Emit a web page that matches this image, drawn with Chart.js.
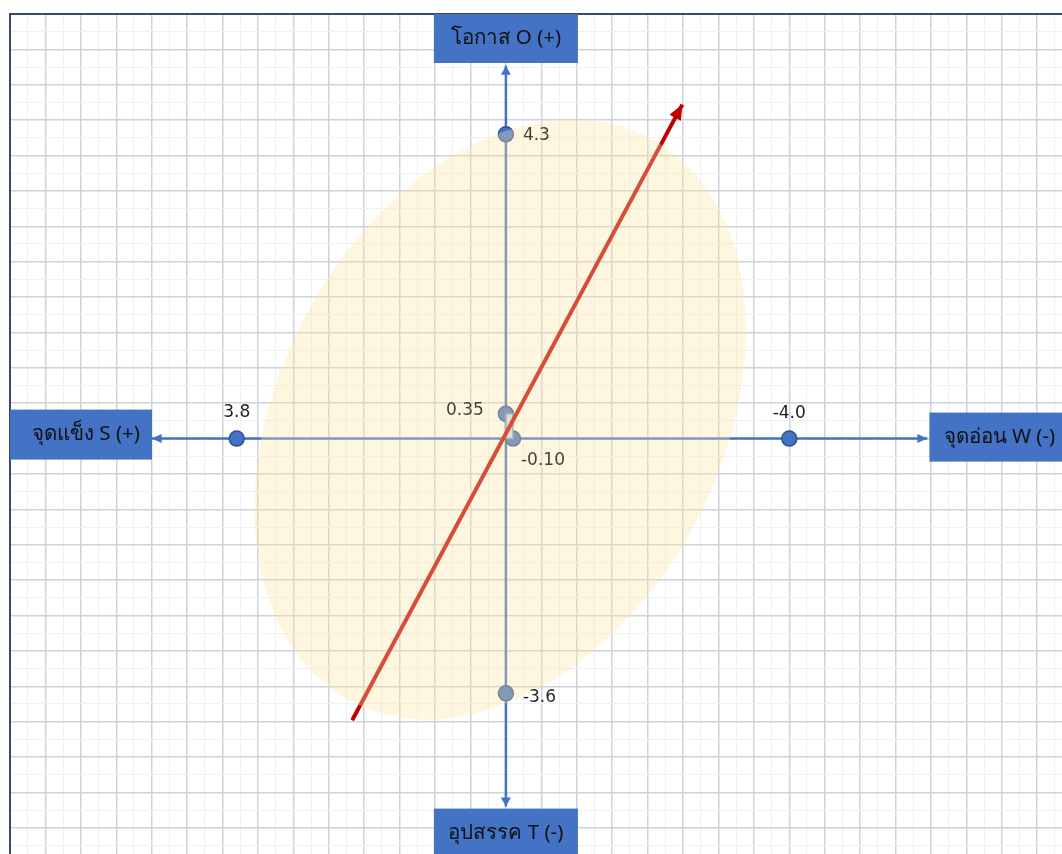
<!DOCTYPE html>
<html>
<head>
  <meta charset="UTF-8">
  <script src="https://cdn.jsdelivr.net/npm/chart.js"></script>
  <title>SWOT</title>
  <style>
    body { margin: 0; background: #fff; overflow: hidden; }
    canvas { display: block; }
  </style>
</head>
<body>
  <canvas id="swotChart" width="1062" height="854"></canvas>
  <script>
    // ชื่อปัจจัย (กล่องปลายแกน)
    var factorNames = ['จุดแข็ง S (+)', 'จุดอ่อน W (-)', 'โอกาส O (+)', 'อุปสรรค T (-)'];

    // คะแนน S, W, O, T และผลรวม (O+T, S+W)
    var scoreX = [3.8, -4.0, 0, 0, 0, -0.10];
    var scoreY = [0, 0, 4.3, -3.6, 0.35, 0];
    var scoreLabels = ['3.8', '-4.0', '4.3', '-3.6', '0.35', '-0.10'];

    // axis lines and the strategy arrow, in data units
    var hAxisX = [5.0, -5.95];
    var vAxisY = [5.27, -5.2];
    var arrowX = [2.17, -2.49];
    var arrowY = [-3.98, 4.72];

    // small box between the two sums
    var sumBoxX = [0, -0.10, -0.10, 0, 0];
    var sumBoxY = [0, 0, 0.35, 0.35, 0];

    // zone ellipse: centre x, centre y, half length, half width, tilt (deg)
    var zoneEllipse = [0.08, 0.27, 4.5, 3.12, 62];

    function toPoints(xs, ys) {
      return xs.map(function (x, i) { return { x: x, y: ys[i] }; });
    }

    function isMajor(v) {
      return Math.abs(v * 2 - Math.round(v * 2)) < 1e-6;
    }

    function drawHead(ctx, fromX, fromY, tipX, tipY, len, wid, color) {
      var a = Math.atan2(tipY - fromY, tipX - fromX);
      ctx.save();
      ctx.translate(tipX, tipY);
      ctx.rotate(a);
      ctx.beginPath();
      ctx.moveTo(0, 0);
      ctx.lineTo(-len, -wid / 2);
      ctx.lineTo(-len, wid / 2);
      ctx.closePath();
      ctx.fillStyle = color;
      ctx.fill();
      ctx.restore();
    }

    var swotDecor = {
      id: 'swotDecor',
      afterDatasetsDraw: function (chart) {
        var ctx = chart.ctx;
        var xs = chart.scales.x, ys = chart.scales.y;
        var area = chart.chartArea;

        // arrow heads
        chart.data.datasets.forEach(function (ds, i) {
          if (!ds.arrowHeads) return;
          var pts = chart.getDatasetMeta(i).data;
          ds.arrowHeads.forEach(function (end) {
            var tip = end === 'end' ? pts[pts.length - 1] : pts[0];
            var prev = end === 'end' ? pts[pts.length - 2] : pts[1];
            drawHead(ctx, prev.x, prev.y, tip.x, tip.y, ds.headLen, ds.headWidth, ds.borderColor);
          });
        });

        // pale zone ellipse laid over the marks
        var e = zoneEllipse;
        var ux = Math.abs(xs.getPixelForValue(1) - xs.getPixelForValue(0));
        var uy = Math.abs(ys.getPixelForValue(1) - ys.getPixelForValue(0));
        ctx.save();
        ctx.beginPath();
        ctx.ellipse(xs.getPixelForValue(e[0]), ys.getPixelForValue(e[1]),
          e[2] * ux, e[3] * uy, -e[4] * Math.PI / 180, 0, Math.PI * 2);
        ctx.fillStyle = 'rgba(255, 228, 160, 0.34)';
        ctx.fill();
        ctx.restore();

        // value labels next to the points
        var offs = [[0, -26, 'center'], [0, -25, 'center'], [17, 1, 'left'],
                    [17, 4, 'left'], [-22, -3, 'right'], [8, 22, 'left']];
        var tint = ['#1e1e1e', '#1e1e1e', '#45423a', '#262626', '#45423a', '#45423a'];
        ctx.save();
        ctx.font = '17px "DejaVu Sans", sans-serif';
        ctx.textBaseline = 'middle';
        scoreLabels.forEach(function (t, i) {
          var px = xs.getPixelForValue(scoreX[i]);
          var py = ys.getPixelForValue(scoreY[i]);
          ctx.fillStyle = tint[i];
          ctx.textAlign = offs[i][2];
          ctx.fillText(t, px + offs[i][0], py + offs[i][1]);
        });
        ctx.restore();

        // blue boxes at the ends of the axes
        var x0 = xs.getPixelForValue(0), y0 = ys.getPixelForValue(0);
        var boxes = [
          { l: area.left, t: y0 - 29, w: 142, h: 50 },
          { l: xs.getPixelForValue(hAxisX[1]) + 2, t: y0 - 26, w: 140, h: 49 },
          { l: x0 - 72, t: area.top, w: 144, h: 49 },
          { l: x0 - 72, t: ys.getPixelForValue(vAxisY[1]) + 2, w: 144, h: 50 }
        ];
        ctx.save();
        ctx.font = '20.5px "Noto Sans", sans-serif';
        ctx.textAlign = 'center';
        ctx.textBaseline = 'middle';
        boxes.forEach(function (b, i) {
          ctx.fillStyle = '#4472C4';
          ctx.fillRect(b.l, b.t, b.w, b.h);
          ctx.fillStyle = '#111111';
          ctx.fillText(factorNames[i], b.l + b.w / 2 + (i === 0 ? 5 : 0), b.t + b.h / 2);
        });
        ctx.restore();
      }
    };

    var axisGrid = {
      color: function (c) { return isMajor(c.tick.value) ? '#CED2DE' : '#EEF0F4'; },
      lineWidth: function (c) { return isMajor(c.tick.value) ? 1.5 : 1; },
      drawTicks: false
    };

    var ctx = document.getElementById('swotChart').getContext('2d');
    var chart = new Chart(ctx, {
      type: 'scatter',
      data: {
        datasets: [{
          data: toPoints(hAxisX, [0, 0]),
          showLine: true,
          borderColor: '#4472C4',
          borderWidth: 2.5,
          pointRadius: 0,
          arrowHeads: ['start', 'end'],
          headLen: 10,
          headWidth: 9,
          order: 6
        }, {
          data: toPoints([0, 0], vAxisY),
          showLine: true,
          borderColor: '#4472C4',
          borderWidth: 2.5,
          pointRadius: 0,
          arrowHeads: ['start', 'end'],
          headLen: 9,
          headWidth: 10,
          order: 5
        }, {
          data: toPoints(scoreX, scoreY),
          showLine: false,
          pointRadius: 7.5,
          pointBackgroundColor: '#4472C4',
          pointBorderColor: '#2F528F',
          pointBorderWidth: 1.5,
          order: 4
        }, {
          data: toPoints(sumBoxX, sumBoxY),
          showLine: true,
          fill: 'shape',
          backgroundColor: '#D3DDEB',
          borderColor: '#7F96B8',
          borderWidth: 1.5,
          pointRadius: 0,
          order: 3
        }, {
          data: toPoints(arrowX, arrowY),
          showLine: true,
          borderColor: '#C00000',
          borderWidth: 4,
          pointRadius: 0,
          arrowHeads: ['end'],
          headLen: 15,
          headWidth: 13,
          order: 1
        }]
      },
      options: {
        responsive: false,
        animation: false,
        events: [],
        layout: { autoPadding: false, padding: { left: 10, top: 14, right: 0, bottom: 0 } },
        plugins: {
          legend: { display: false },
          tooltip: { enabled: false }
        },
        scales: {
          x: {
            type: 'linear',
            position: 'top',
            reverse: true,
            min: -7.85,
            max: 7.0,
            ticks: { display: false, stepSize: 0.25, includeBounds: false, autoSkip: false },
            grid: axisGrid,
            border: { color: '#3B4A6A', width: 2 }
          },
          y: {
            type: 'linear',
            position: 'left',
            min: -5.87,
            max: 6.0,
            ticks: { display: false, stepSize: 0.25, includeBounds: false, autoSkip: false },
            grid: axisGrid,
            border: { color: '#3B4A6A', width: 2 }
          }
        }
      },
      plugins: [swotDecor]
    });
  </script>
</body>
</html>
